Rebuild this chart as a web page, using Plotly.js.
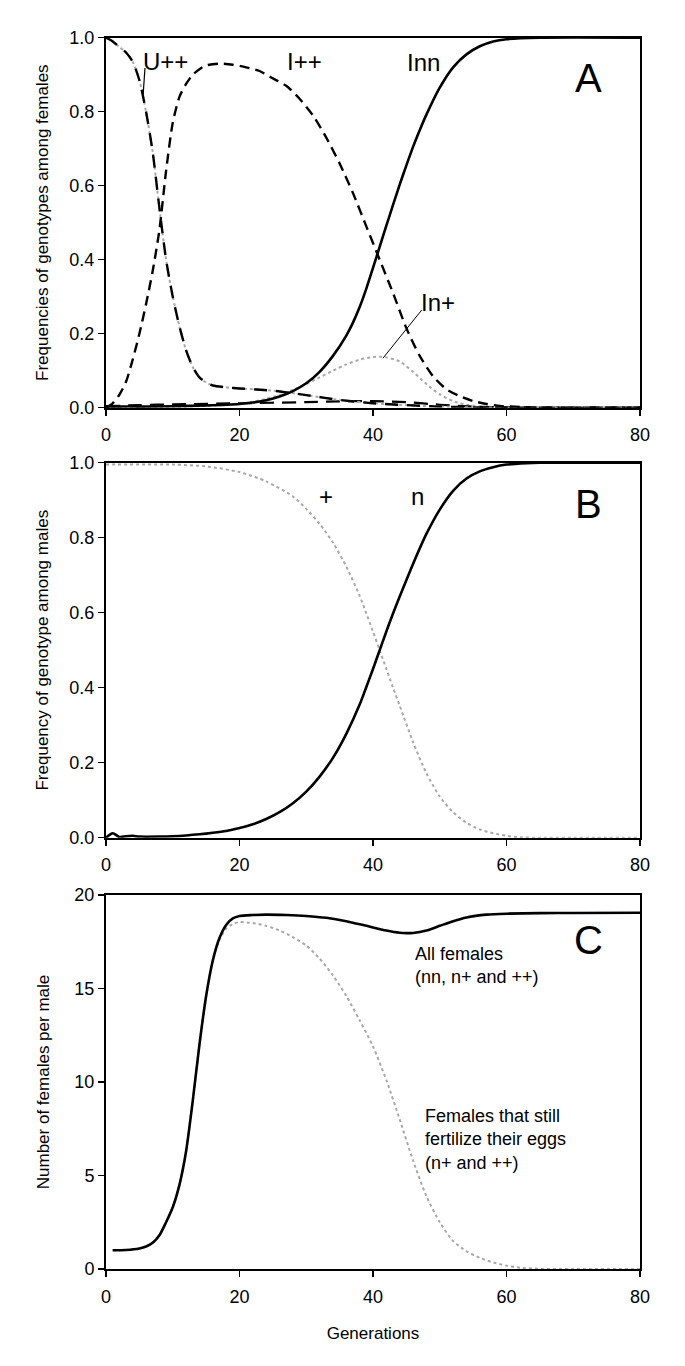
<!DOCTYPE html>
<html>
<head>
<meta charset="utf-8">
<script src="https://cdn.plot.ly/plotly-3.0.1.min.js"></script>
<style>html,body{margin:0;padding:0;background:#fff;}#chart{width:685px;height:1366px;}</style>
</head>
<body>
<div id="chart"></div>
<script>
// ---------- Panel A: genotype frequencies among females ----------
const uppX = [0,1,2,3,4,5,6,7,8,9,10,11,12,13,14,15,16,18,20,25,30,35,40,45,50,55,60,80];
const uppY = [1.0,0.99,0.975,0.96,0.935,0.885,0.80,0.69,0.54,0.40,0.30,0.22,0.155,0.11,0.082,0.068,0.06,0.055,0.052,0.046,0.034,0.021,0.012,0.007,0.003,0.001,0,0];

const ippX = [0,1,2,3,4,5,6,7,8,9,10,11,12,13,14,15,17,19,21,23,25,27,29,31,33,35,37,39,41,43,45,47,49,51,53,55,57,59,62,65,80];
const ippY = [0,0.012,0.035,0.07,0.13,0.2,0.28,0.37,0.48,0.64,0.77,0.84,0.875,0.90,0.915,0.925,0.93,0.927,0.92,0.91,0.89,0.87,0.835,0.79,0.73,0.66,0.58,0.49,0.40,0.31,0.215,0.14,0.085,0.05,0.031,0.018,0.01,0.005,0.002,0,0];

const innX = [0,2,5,10,15,20,22,24,26,28,30,32,34,36,37,38,39,40,41,42,43,44,45,46,47,48,50,52,54,56,58,60,65,80];
const innY = [0,0.003,0.003,0.004,0.006,0.01,0.014,0.02,0.03,0.045,0.066,0.097,0.14,0.195,0.23,0.272,0.322,0.378,0.435,0.492,0.548,0.603,0.655,0.705,0.75,0.792,0.865,0.92,0.955,0.977,0.99,0.996,1.0,1.0];

const inpX = [0,10,15,20,22,24,26,28,30,32,34,36,38,40,41,42,44,46,48,50,52,54,56,58,60,80];
const inpY = [0,0.002,0.005,0.01,0.016,0.024,0.034,0.048,0.064,0.082,0.10,0.117,0.13,0.137,0.138,0.136,0.125,0.097,0.064,0.036,0.018,0.008,0.003,0.001,0,0];

const unpX = [0,5,10,20,30,35,40,45,50,55,60,80];
const unpY = [0.004,0.007,0.009,0.012,0.015,0.017,0.018,0.015,0.008,0.003,0.001,0];

// ---------- Panel B: genotype frequency among males ----------
const nX = [0,1,2,3,4,5,8,10,12,14,16,18,20,22,24,26,28,30,32,34,36,38,39,40,41,42,43,44,46,48,50,52,54,56,58,60,63,65,80];
const nY = [0,0.012,0.002,0.004,0.005,0.003,0.003,0.004,0.006,0.009,0.013,0.018,0.026,0.036,0.05,0.068,0.092,0.123,0.163,0.213,0.277,0.355,0.402,0.45,0.50,0.55,0.598,0.643,0.73,0.81,0.875,0.925,0.958,0.977,0.988,0.995,0.999,1.0,1.0];

const plusX = [0,10,15,20,24,28,30,32,34,36,38,39,40,41,42,43,44,46,48,50,52,54,56,58,60,62,65,80];
const plusY = [0.995,0.995,0.99,0.975,0.95,0.91,0.877,0.837,0.787,0.723,0.645,0.598,0.55,0.50,0.45,0.40,0.352,0.255,0.172,0.11,0.068,0.04,0.022,0.012,0.005,0.001,0,0];

// ---------- Panel C: number of females per male ----------
const allX = [1,3,5,6,7,8,9,10,11,12,13,14,15,16,17,18,19,20,22,24,27,30,33,36,39,42,44,45,46,48,50,52,54,57,60,65,70,80];
const allY = [1.0,1.02,1.1,1.2,1.4,1.8,2.5,3.3,4.5,6.3,9.0,12.0,14.6,16.5,17.7,18.4,18.75,18.88,18.93,18.95,18.93,18.88,18.78,18.6,18.35,18.1,17.98,17.96,17.97,18.1,18.35,18.6,18.8,18.95,19.0,19.03,19.04,19.05];

const fertX = [1,3,5,6,7,8,9,10,11,12,13,14,15,16,17,18,19,20,22,24,26,28,30,32,34,36,38,40,42,44,46,48,50,52,54,56,58,60,62,65,70,80];
const fertY = [1.0,1.02,1.1,1.2,1.4,1.8,2.5,3.3,4.5,6.3,9.0,12.0,14.6,16.5,17.6,18.2,18.45,18.55,18.5,18.35,18.1,17.75,17.3,16.6,15.7,14.6,13.3,11.9,10.1,8.0,5.8,3.9,2.5,1.5,0.95,0.6,0.35,0.18,0.07,0.01,0,0];

const xTicks = [0,20,40,60,80];
const yTicksAB = [0,0.2,0.4,0.6,0.8,1.0];
const yTicksC = [0,5,10,15,20];

const FONT = '"Liberation Sans", Arial, Helvetica, sans-serif';
const GRAY = '#a8a8a8';

function tr(x, y, xa, ya, color, width, dash) {
  return {x: x, y: y, xaxis: xa, yaxis: ya, type: 'scatter', mode: 'lines',
          line: {color: color, width: width, dash: dash, shape: 'spline', smoothing: 0.7},
          hoverinfo: 'skip', showlegend: false};
}

const data = [
  // Panel A
  tr(inpX, inpY, 'x', 'y', GRAY, 2, 'dot'),
  tr(unpX, unpY, 'x', 'y', '#000', 2.2, '14px,8px'),
  tr(uppX, uppY, 'x', 'y', GRAY, 2, 'dot'),
  tr(uppX, uppY, 'x', 'y', '#000', 2.4, '13px,9px'),
  tr(ippX, ippY, 'x', 'y', '#000', 2.4, '10px,6px'),
  tr(innX, innY, 'x', 'y', '#000', 2.6, 'solid'),
  // Panel B
  tr(plusX, plusY, 'x2', 'y2', GRAY, 2, 'dot'),
  tr(nX, nY, 'x2', 'y2', '#000', 2.6, 'solid'),
  // Panel C
  tr(fertX, fertY, 'x3', 'y3', GRAY, 2, 'dot'),
  tr(allX, allY, 'x3', 'y3', '#000', 2.6, 'solid')
];

const W = 685, H = 1366;
const xDom = [106 / W, 640 / W];
function yd(top, bottom) { return [1 - bottom / H, 1 - top / H]; }

function xax(anchor, title) {
  const a = {domain: xDom, anchor: anchor, range: [0, 80], tickvals: xTicks,
    showline: true, mirror: true, linecolor: '#000', linewidth: 2,
    ticks: 'outside', ticklen: 6, tickwidth: 1.5, tickcolor: '#000', ticklabelstandoff: 4,
    showgrid: false, zeroline: false, tickfont: {family: FONT, size: 18, color: '#000'}};
  if (title) a.title = {text: title, font: {family: FONT, size: 17, color: '#000'}, standoff: 22};
  return a;
}
function yax(anchor, dom, range, tv, fmt, title, so) {
  return {domain: dom, anchor: anchor, range: range, tickvals: tv, tickformat: fmt,
    showline: true, mirror: true, linecolor: '#000', linewidth: 2,
    ticks: 'outside', ticklen: 6, tickwidth: 1.5, tickcolor: '#000',
    showgrid: false, zeroline: false, tickfont: {family: FONT, size: 18, color: '#000'},
    title: {text: title, font: {family: FONT, size: 17, color: '#000'}, standoff: so}};
}

function ann(text, x, y, xr, yr, size, extra) {
  return Object.assign({text: text, x: x, y: y, xref: xr, yref: yr, showarrow: false,
    font: {family: FONT, size: size, color: '#000'}, xanchor: 'center', yanchor: 'middle'}, extra || {});
}

const layout = {
  width: W, height: H,
  margin: {l: 0, r: 0, t: 0, b: 0},
  paper_bgcolor: '#fff', plot_bgcolor: '#fff',
  font: {family: FONT, color: '#000'},
  showlegend: false,
  xaxis: xax('y'),
  yaxis: yax('x', yd(37.7, 407.7), [0, 1], yTicksAB, '.1f', 'Frequencies of genotypes among females', 16),
  xaxis2: xax('y2'),
  yaxis2: yax('x2', yd(462.7, 837.7), [0, 1], yTicksAB, '.1f', 'Frequency of genotype among males', 16),
  xaxis3: xax('y3', 'Generations'),
  yaxis3: yax('x3', yd(895, 1269), [0, 20], yTicksC, 'd', 'Number of females per male', 20),
  annotations: [
    ann('U++', 8.85, 0.937, 'x', 'y', 24),
    ann('I++', 29.8, 0.937, 'x', 'y', 24),
    ann('Inn', 47.5, 0.934, 'x', 'y', 24),
    ann('In+', 49.7, 0.285, 'x', 'y', 24),
    ann('A', 72.3, 0.89, 'x', 'y', 40),
    ann('+', 33.0, 0.91, 'x2', 'y2', 24),
    ann('n', 46.6, 0.91, 'x2', 'y2', 24),
    ann('B', 72.3, 0.89, 'x2', 'y2', 40),
    ann('C', 72.3, 17.6, 'x3', 'y3', 40),
    ann('All females<br>(nn, n+ and ++)', 46.0, 16.25, 'x3', 'y3', 18, {xanchor: 'left', align: 'left'}),
    ann('Females that still<br>fertilize their eggs<br>(n+ and ++)', 47.5, 6.94, 'x3', 'y3', 18, {xanchor: 'left', align: 'left'})
  ],
  shapes: [
    {type: 'line', xref: 'x', yref: 'y', x0: 5.84, y0: 0.918, x1: 5.54, y1: 0.84, line: {color: '#000', width: 1.2}},
    {type: 'line', xref: 'x', yref: 'y', x0: 47.3, y0: 0.264, x1: 41.5, y1: 0.134, line: {color: '#000', width: 1}}
  ]
};

Plotly.newPlot('chart', data, layout, {staticPlot: true, displayModeBar: false});
</script>
</body>
</html>
